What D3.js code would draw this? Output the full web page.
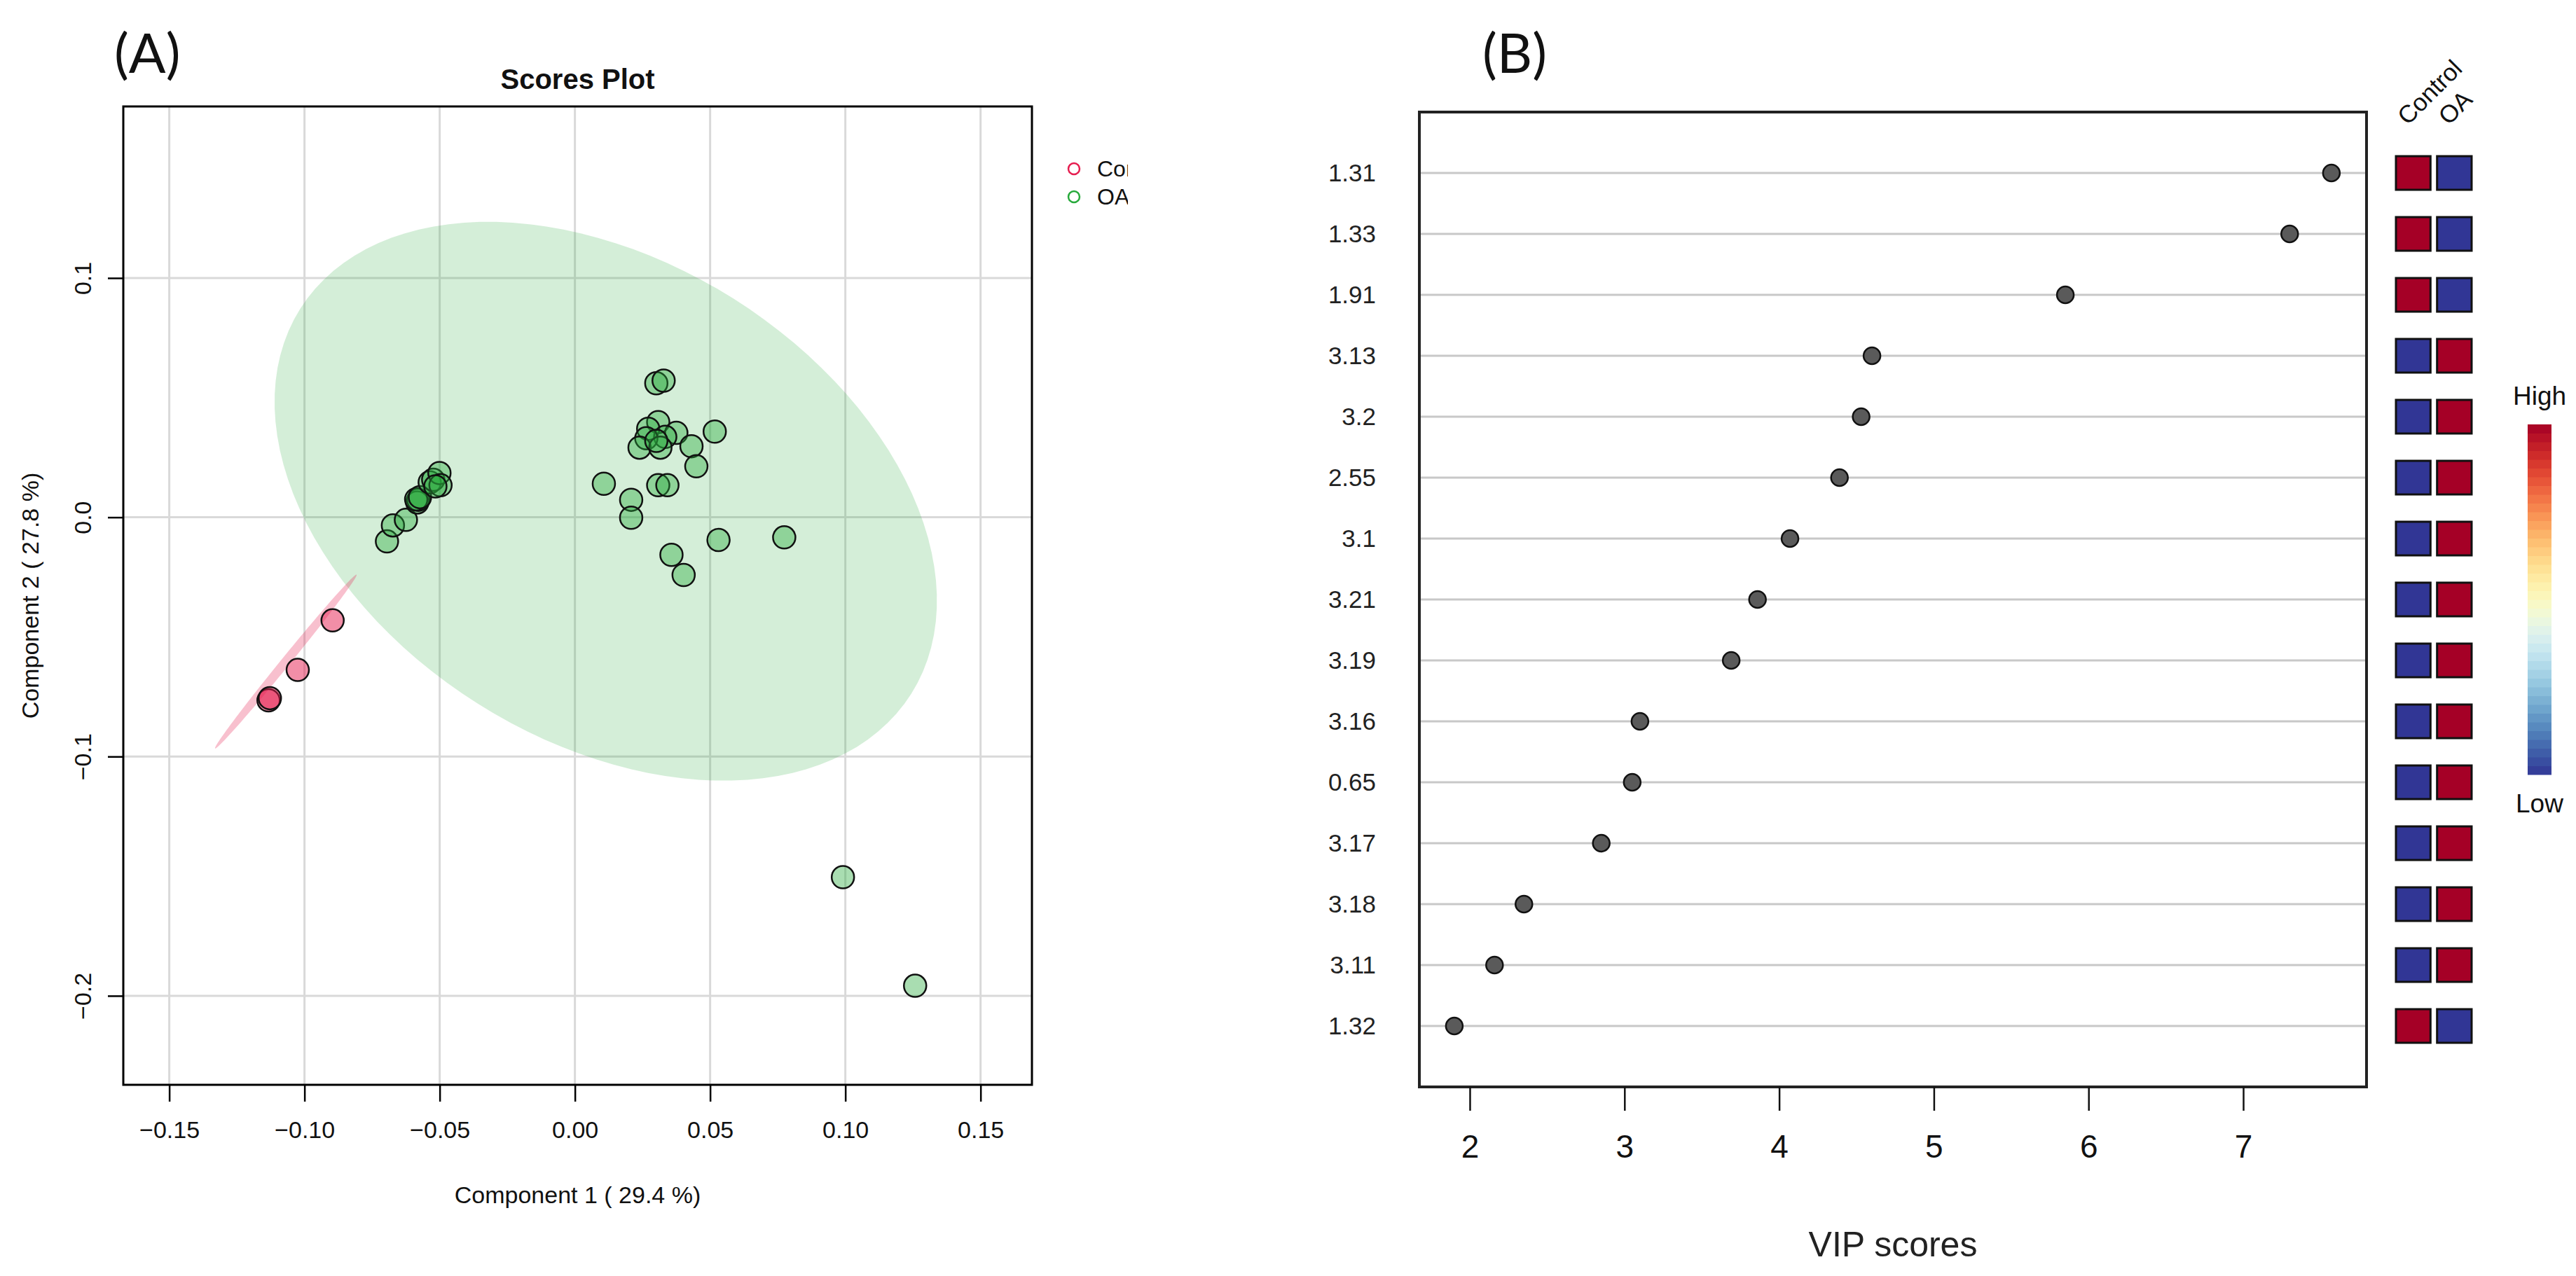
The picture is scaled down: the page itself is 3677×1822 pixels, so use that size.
<!DOCTYPE html>
<html>
<head>
<meta charset="utf-8">
<script src="https://cdn.jsdelivr.net/npm/d3@7"></script>
<style>
  body { margin: 0; background: #fff; }
  text { font-family: "Liberation Sans", Arial, sans-serif; }
</style>
</head>
<body>
<div id="chart"></div>
<script>
// ---------- data: panel A (PLS-DA scores) ----------
const controlX = [-0.1133, -0.1128, -0.1025, -0.0896];
const controlY = [-0.0765, -0.0756, -0.0638, -0.0431];

const oaX = [-0.0695, -0.0673, -0.0625, -0.0583, -0.0579, -0.0587, -0.0573, -0.0537, -0.0524, -0.0501, -0.0497, -0.0516,
  0.0301, 0.0328, 0.0517, 0.0308, 0.0271, 0.0375, 0.0334, 0.0264, 0.0239, 0.0316, 0.0301, 0.0431, 0.0449,
  0.0308, 0.0342, 0.0107, 0.0208, 0.0208, 0.0531, 0.0774, 0.0357, 0.0402, 0.0991, 0.1258];
const oaY = [-0.0101, -0.0034, -0.0011, 0.0062, 0.0073, 0.0075, 0.0084, 0.0146, 0.0157, 0.0185, 0.0134, 0.0129,
  0.0560, 0.0571, 0.0358, 0.0398, 0.0370, 0.0353, 0.0336, 0.0330, 0.0291, 0.0291, 0.0319, 0.0297, 0.0213,
  0.0134, 0.0134, 0.0140, 0.0073, -0.0002, -0.0095, -0.0084, -0.0157, -0.0241, -0.1504, -0.1958];

// 95% confidence ellipses: centre and the two semi-axis vectors, in data units
const ellipseControl = [-0.1069, -0.0603, 0.02615, 0.0363, 0.0013, -0.0012];
const ellipseOA = [0.0114, 0.0067, 0.1130, -0.0804, -0.0472, -0.0847];

const xTicksA = [-0.15, -0.10, -0.05, 0.00, 0.05, 0.10, 0.15];
const yTicksA = [0.1, 0.0, -0.1, -0.2];
const groupsA = ["Control", "OA"];

// ---------- data: panel B (VIP scores) ----------
const features = ["1.31", "1.33", "1.91", "3.13", "3.2", "2.55", "3.1", "3.21", "3.19", "3.16", "0.65", "3.17", "3.18", "3.11", "1.32"];
const vipScores = [7.57, 7.30, 5.85, 4.60, 4.53, 4.39, 4.07, 3.86, 3.69, 3.10, 3.05, 2.85, 2.35, 2.16, 1.90];
// relative level per group (1 = high, 0 = low)
const controlLevel = [1, 1, 1, 0, 0, 0, 0, 0, 0, 0, 0, 0, 0, 0, 1];
const oaLevel = [0, 0, 0, 1, 1, 1, 1, 1, 1, 1, 1, 1, 1, 1, 0];
const xTicksB = [2, 3, 4, 5, 6, 7];

const W = 3677, H = 1822;
const green = "rgb(40,170,60)", red = "rgb(230,30,80)";

const svg = d3.select("#chart").append("svg")
  .attr("width", W)
  .attr("height", H);

// ================= Panel A =================
const xA = d3.scaleLinear().domain([-0.167, 0.169]).range([176, 1473]);
const yA = d3.scaleLinear().domain([-0.2372, 0.1717]).range([1549, 152]);

const gA = svg.append("g");

// grid
gA.selectAll(".vgrid").data(xTicksA).enter().append("line")
  .attr("x1", d => xA(d)).attr("x2", d => xA(d))
  .attr("y1", yA.range()[1]).attr("y2", yA.range()[0])
  .attr("stroke", "#d9d9d9").attr("stroke-width", 3);
gA.selectAll(".hgrid").data(yTicksA).enter().append("line")
  .attr("x1", xA.range()[0]).attr("x2", xA.range()[1])
  .attr("y1", d => yA(d)).attr("y2", d => yA(d))
  .attr("stroke", "#d9d9d9").attr("stroke-width", 3);

// ellipses
function ellipsePath(e) {
  const pts = d3.range(0, 361, 3).map(a => {
    const t = a * Math.PI / 180;
    return [xA(e[0] + Math.cos(t) * e[2] + Math.sin(t) * e[4]),
            yA(e[1] + Math.cos(t) * e[3] + Math.sin(t) * e[5])];
  });
  return d3.line().curve(d3.curveLinearClosed)(pts);
}
gA.append("path").attr("d", ellipsePath(ellipseOA))
  .attr("fill", green).attr("fill-opacity", 0.2);
gA.append("path").attr("d", ellipsePath(ellipseControl))
  .attr("fill", red).attr("fill-opacity", 0.28);

// points
const ptsA = controlX.map((x, i) => ({ x, y: controlY[i], g: "Control" }))
  .concat(oaX.map((x, i) => ({ x, y: oaY[i], g: "OA" })));
gA.selectAll(".pt").data(ptsA).enter().append("circle")
  .attr("cx", d => xA(d.x)).attr("cy", d => yA(d.y)).attr("r", 16)
  .attr("fill", d => d.g === "OA" ? green : red)
  .attr("fill-opacity", d => d.g === "OA" ? 0.4 : 0.5)
  .attr("stroke", "#111").attr("stroke-width", 2.5);

// box
gA.append("rect")
  .attr("x", xA.range()[0]).attr("y", yA.range()[1])
  .attr("width", xA.range()[1] - xA.range()[0]).attr("height", yA.range()[0] - yA.range()[1])
  .attr("fill", "none").attr("stroke", "#000").attr("stroke-width", 3);

// x axis
const axA = gA.append("g").attr("transform", `translate(0,${yA.range()[0]})`)
  .call(d3.axisBottom(xA).tickValues(xTicksA).tickFormat(d3.format(".2f")).tickSize(24).tickSizeOuter(0).tickPadding(28));
axA.select(".domain").remove();
axA.selectAll("line").attr("stroke", "#000").attr("stroke-width", 2.5);
axA.selectAll("text").attr("font-size", 34).attr("fill", "#111")
  .style("font-family", "'Liberation Sans', Arial, sans-serif");

// y axis
const ayA = gA.append("g").attr("transform", `translate(${xA.range()[0]},0)`)
  .call(d3.axisLeft(yA).tickValues(yTicksA).tickFormat(d3.format(".1f")).tickSize(22).tickSizeOuter(0));
ayA.select(".domain").remove();
ayA.selectAll("line").attr("stroke", "#000").attr("stroke-width", 2.5);
ayA.selectAll("text")
  .attr("x", 0).attr("dy", null).attr("y", 0)
  .attr("transform", "translate(-58,0) rotate(-90)")
  .attr("text-anchor", "middle").attr("dominant-baseline", "central")
  .attr("font-size", 34).attr("fill", "#111")
  .style("font-family", "'Liberation Sans', Arial, sans-serif");

// titles
const midA = (xA.range()[0] + xA.range()[1]) / 2;
gA.append("text").attr("x", midA).attr("y", 127).attr("text-anchor", "middle")
  .attr("font-size", 40).attr("font-weight", "bold").attr("fill", "#111").text("Scores Plot");
gA.append("text").attr("x", midA).attr("y", 1718).attr("text-anchor", "middle")
  .attr("font-size", 34).attr("fill", "#111").text("Component 1 ( 29.4 %)");
gA.append("text")
  .attr("transform", `translate(55,${(yA.range()[0] + yA.range()[1]) / 2}) rotate(-90)`)
  .attr("text-anchor", "middle").attr("font-size", 34).attr("fill", "#111")
  .text("Component 2 ( 27.8 %)");

// legend (clipped at the figure edge, as in the original)
svg.append("clipPath").attr("id", "legclip")
  .append("rect").attr("x", 1500).attr("y", 200).attr("width", 110).attr("height", 120);
const leg = gA.append("g").attr("clip-path", "url(#legclip)");
const legItems = leg.selectAll(".li").data(groupsA).enter().append("g")
  .attr("transform", (d, i) => `translate(1533,${241 + i * 40})`);
legItems.append("circle").attr("r", 8).attr("fill", "none")
  .attr("stroke", d => d === "OA" ? green : red).attr("stroke-width", 2.5);
legItems.append("text").attr("x", 33).attr("dominant-baseline", "central")
  .attr("font-size", 32).attr("fill", "#111").text(d => d);

// ================= Panel B =================
const xB = d3.scaleLinear().domain([1.674, 7.797]).range([2026, 3378]);
const yB = d3.scalePoint().domain(features).range([160, 1552]).padding(1);
const gB = svg.append("g");

gB.selectAll(".row").data(features).enter().append("line")
  .attr("x1", xB.range()[0]).attr("x2", xB.range()[1])
  .attr("y1", d => yB(d)).attr("y2", d => yB(d))
  .attr("stroke", "#c8c8c8").attr("stroke-width", 3);

gB.selectAll(".dot").data(features).enter().append("circle")
  .attr("cx", (d, i) => xB(vipScores[i])).attr("cy", d => yB(d)).attr("r", 12)
  .attr("fill", "#5a5a5a").attr("stroke", "#111").attr("stroke-width", 2.5);

gB.append("rect")
  .attr("x", xB.range()[0]).attr("y", yB.range()[0])
  .attr("width", xB.range()[1] - xB.range()[0]).attr("height", yB.range()[1] - yB.range()[0])
  .attr("fill", "none").attr("stroke", "#222").attr("stroke-width", 4);

const axB = gB.append("g").attr("transform", `translate(0,${yB.range()[1]})`)
  .call(d3.axisBottom(xB).tickValues(xTicksB).tickFormat(d3.format("d")).tickSize(34).tickSizeOuter(0).tickPadding(34));
axB.select(".domain").remove();
axB.selectAll("line").attr("stroke", "#111").attr("stroke-width", 2.5);
axB.selectAll("text").attr("font-size", 46).attr("fill", "#111")
  .style("font-family", "'Liberation Sans', Arial, sans-serif");

const ayB = gB.append("g").attr("transform", `translate(${xB.range()[0]},0)`)
  .call(d3.axisLeft(yB).tickSize(0).tickPadding(62));
ayB.select(".domain").remove();
ayB.selectAll("text").attr("font-size", 35).attr("fill", "#222")
  .style("font-family", "'Liberation Sans', Arial, sans-serif");

gB.append("text").attr("x", (xB.range()[0] + xB.range()[1]) / 2).attr("y", 1794)
  .attr("text-anchor", "middle").attr("font-size", 50).attr("fill", "#222").text("VIP scores");

// side heat map
const colX = d3.scaleBand().domain(groupsA).range([3420, 3528]).paddingInner(0.16);
const heat = d3.scaleLinear().domain([0, 1]).range(["#313695", "#a50026"]);
const cells = [];
features.forEach((f, i) => {
  cells.push({ f, g: "Control", v: controlLevel[i] });
  cells.push({ f, g: "OA", v: oaLevel[i] });
});
gB.selectAll(".cell").data(cells).enter().append("rect")
  .attr("x", d => colX(d.g)).attr("y", d => yB(d.f) - 24)
  .attr("width", colX.bandwidth()).attr("height", 48)
  .attr("fill", d => heat(d.v)).attr("stroke", "#111").attr("stroke-width", 3);

gB.selectAll(".colhead").data(groupsA).enter().append("text")
  .attr("transform", d => `translate(${colX(d) + colX.bandwidth() / 2 - 8},180) rotate(-45)`)
  .attr("font-size", 35).attr("fill", "#111").text(d => d);

// colour key
const keyY = d3.scaleLinear().domain([0, 1]).range([1106, 606]);
const steps = d3.range(0, 1, 1 / 40);
gB.selectAll(".key").data(steps).enter().append("rect")
  .attr("x", 3608).attr("width", 34)
  .attr("y", d => keyY(d + 1 / 40)).attr("height", keyY(0) - keyY(1 / 40) + 0.5)
  .attr("fill", d => d3.interpolateRdYlBu(1 - (d + 1 / 80)));
gB.append("text").attr("x", 3625).attr("y", 578).attr("text-anchor", "middle")
  .attr("font-size", 37).attr("fill", "#111").text("High");
gB.append("text").attr("x", 3625).attr("y", 1160).attr("text-anchor", "middle")
  .attr("font-size", 37).attr("fill", "#111").text("Low");

// panel letters
svg.append("text").attr("x", 163).attr("y", 104).attr("font-size", 78)
  .style("font-family", "Lato, 'Open Sans', sans-serif").attr("fill", "#111").text("(A)");
svg.append("text").attr("x", 2116).attr("y", 104).attr("font-size", 78)
  .style("font-family", "Lato, 'Open Sans', sans-serif").attr("fill", "#111").text("(B)");
</script>
</body>
</html>
